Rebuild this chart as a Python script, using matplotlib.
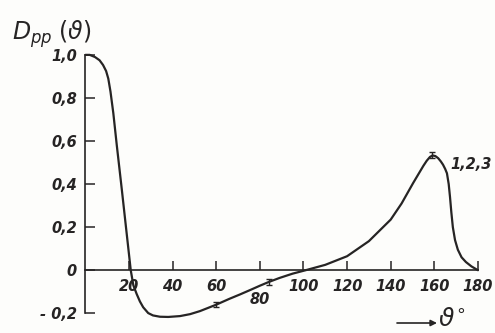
import matplotlib.pyplot as plt

# kurve D_pp(theta)
theta = [0, 2, 4.4, 6.5, 8.1, 9.5, 10.5, 11.5, 12.8, 14.4, 16.7, 18.5, 20.8,
         22, 23.5, 25, 26.5, 28.8, 31, 34.2, 38, 43.4, 48, 52.5, 56, 60, 66,
         71, 76, 80, 84, 89, 95, 101, 110, 120, 130, 140, 145, 150.3, 155,
         156.5, 158, 159.2, 160.5, 161.8, 163, 164, 165, 165.8, 166.6, 167.2,
         167.8, 168.5, 169.5, 170.8, 172.5, 174.5, 177, 180]
dpp = [1.0, 1.0, 0.99, 0.975, 0.953, 0.925, 0.89, 0.83, 0.73, 0.58, 0.375,
       0.21, 0.0, -0.07, -0.11, -0.145, -0.172, -0.199, -0.21, -0.216, -0.217,
       -0.213, -0.204, -0.19, -0.176, -0.16, -0.133, -0.112, -0.09, -0.072,
       -0.055, -0.036, -0.016, 0.0, 0.025, 0.065, 0.135, 0.235, 0.31, 0.405,
       0.485, 0.508, 0.526, 0.533, 0.53, 0.52, 0.505, 0.49, 0.47, 0.45, 0.4,
       0.34, 0.27, 0.2, 0.14, 0.095, 0.06, 0.038, 0.018, 0.0]

# messpunkte mit fehlerbalken
err_x = [60, 84, 159]
err_y = [-0.16, -0.055, 0.536]
err_d = [0.012, 0.012, 0.014]

yticks = [-0.2, 0, 0.2, 0.4, 0.6, 0.8, 1.0]
ylabels = ["- 0,2", "0", "0,2", "0,4", "0,6", "0,8", "1,0"]
xticks = [20, 40, 60, 80, 100, 120, 140, 160, 180]
xlabels = ["20", "40", "60", "", "100", "120", "140", "160", "180"]

ink = "#262424"
fnt = dict(family="DejaVu Sans", style="italic", weight="bold")

fig = plt.figure(figsize=(4.95, 3.33), dpi=100, facecolor="#fdfdfb")
ax = fig.add_axes([0.1725, 0.0592, 0.793, 0.776])
ax.set_facecolor("none")

ax.plot(theta, dpp, color=ink, lw=1.6, clip_on=False,
        solid_capstyle="round", solid_joinstyle="round")
ax.errorbar(err_x, err_y, yerr=err_d, fmt="none", ecolor=ink, elinewidth=1.0,
            capsize=2.2, capthick=1.0, clip_on=False)

ax.set_xlim(0, 180)
ax.set_ylim(-0.2, 1.0)
for s in ["top", "right"]:
    ax.spines[s].set_visible(False)
ax.spines["bottom"].set_position(("data", 0))
ax.spines["left"].set_color(ink)
ax.spines["bottom"].set_color(ink)
ax.spines["left"].set_linewidth(1.2)
ax.spines["bottom"].set_linewidth(1.2)

ax.set_yticks(yticks)
ax.set_yticklabels(ylabels, **fnt, fontsize=10.5)
ax.set_xticks(xticks)
ax.set_xticklabels(xlabels, **fnt, fontsize=10.5)
ax.tick_params(axis="y", direction="in", length=7.5, width=1.1, color=ink,
               pad=6, labelcolor=ink)
ax.tick_params(axis="x", direction="in", length=6.5, width=1.1, color=ink,
               pad=6, labelcolor=ink)

# 80 steht tiefer, unter der kurve
ax.text(80, -0.135, "80", ha="center", va="center", fontsize=10.5, color=ink, **fnt)
ax.text(167.2, 0.493, "1,2,3", ha="left", va="center", fontsize=10.5, color=ink, **fnt)

fig.text(12 / 495, 1 - 40 / 333, r"$D_{pp}\;(\vartheta)$", fontsize=17,
         color=ink, ha="left", va="baseline")

# achsenpfeil theta
ax.annotate("", xy=(437 / 495, 10 / 333), xytext=(397 / 495, 10 / 333),
            xycoords="figure fraction", textcoords="figure fraction",
            arrowprops=dict(arrowstyle="-|>", color=ink, lw=1.2,
                            mutation_scale=9, shrinkA=0, shrinkB=0))
fig.text(438 / 495, 1 - 319 / 333, r"$\vartheta^{\circ}$", fontsize=18,
         color=ink, ha="left", va="center")

fig.savefig("out.png", dpi=100, facecolor=fig.get_facecolor())
